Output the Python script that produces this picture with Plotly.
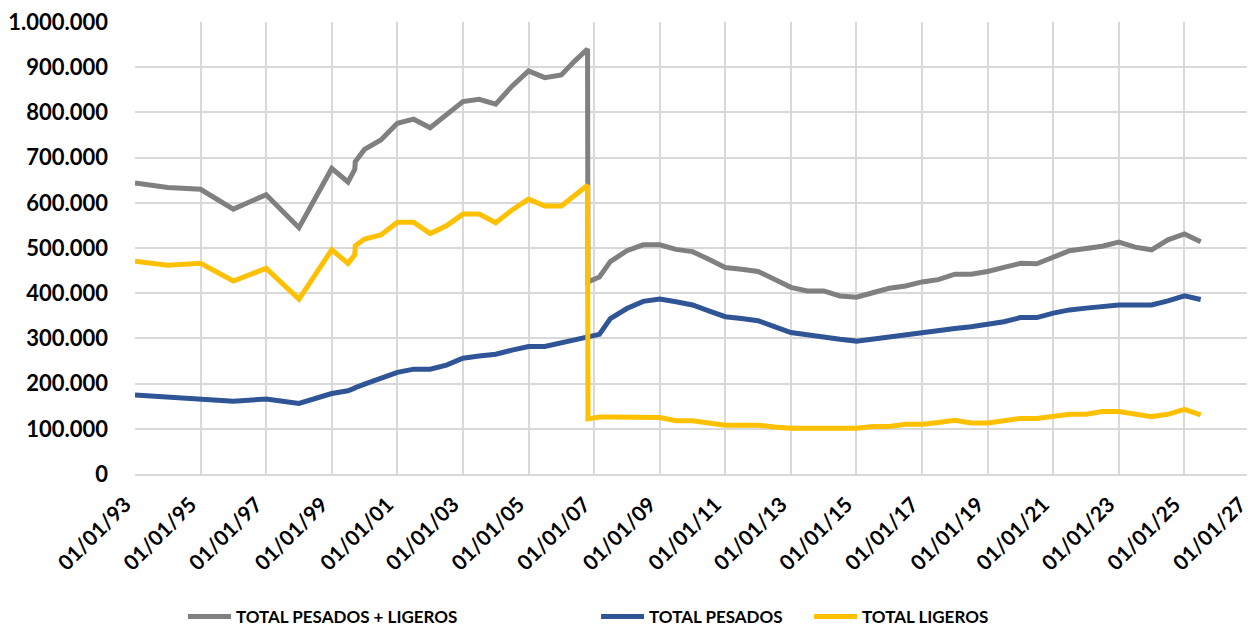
import plotly.graph_objects as go

dates = [
    "1993-01-01", "1994-01-01", "1995-01-01", "1996-01-01", "1997-01-01", "1998-01-01",
    "1999-01-01", "1999-07-01", "1999-09-15", "1999-09-20",
    "2000-01-01", "2000-07-01", "2001-01-01", "2001-07-01", "2002-01-01", "2002-07-01",
    "2003-01-01", "2003-07-01", "2004-01-01", "2004-07-01", "2005-01-01", "2005-07-01",
    "2006-01-01", "2006-06-01", "2006-10-20", "2006-10-25", "2007-03-01", "2007-07-01",
    "2008-01-01", "2008-07-01", "2009-01-01", "2009-07-01", "2010-01-01", "2010-07-01",
    "2011-01-01", "2011-07-01", "2012-01-01", "2012-07-01", "2013-01-01", "2013-07-01",
    "2014-01-01", "2014-07-01", "2015-01-01", "2015-07-01", "2016-01-01", "2016-07-01",
    "2017-01-01", "2017-07-01", "2018-01-01", "2018-07-01", "2019-01-01", "2019-07-01",
    "2020-01-01", "2020-07-01", "2021-01-01", "2021-07-01", "2022-01-01", "2022-07-01",
    "2023-01-01", "2023-07-01", "2024-01-01", "2024-07-01", "2025-01-01", "2025-07-01",
]

total = [
    644000, 634000, 630000, 586000, 618000, 545000,
    676000, 646000, 674000, 691000,
    718000, 739000, 776000, 785000, 766000, 794000,
    824000, 829000, 818000, 858000, 892000, 877000,
    883000, 914000, 940000, 425000, 436000, 470000,
    494000, 507000, 507000, 497000, 492000, 475000,
    457000, 453000, 448000, 431000, 413000, 405000,
    405000, 394000, 391000, 401000, 411000, 416000,
    425000, 430000, 442000, 442000, 448000, 457000,
    466000, 465000, 479000, 494000, 499000, 504000,
    513000, 502000, 496000, 518000, 531000, 514000,
]

pesados = [
    175000, 170000, 166000, 161000, 166000, 156000,
    178000, 184000, 190000, 191000,
    199000, 212000, 225000, 232000, 232000, 241000,
    256000, 261000, 265000, 274000, 282000, 282000,
    291000, 296000, 303000, 303000, 309000, 344000,
    366000, 382000, 387000, 381000, 374000, 361000,
    348000, 344000, 339000, 326000, 313000, 308000,
    302000, 298000, 294000, 299000, 304000, 309000,
    314000, 319000, 322000, 326000, 332000, 337000,
    346000, 346000, 356000, 363000, 367000, 370000,
    374000, 374000, 374000, 383000, 394000, 386000,
]

ligeros = [
    471000, 462000, 466000, 427000, 455000, 387000,
    496000, 466000, 485000, 505000,
    520000, 529000, 557000, 557000, 532000, 549000,
    575000, 575000, 556000, 584000, 608000, 593000,
    593000, 617000, 639000, 122000, 126000, 126000,
    126000, 126000, 125000, 118000, 118000, 113000,
    108000, 108000, 108000, 104000, 101000, 101000,
    101000, 101000, 101000, 105000, 105000, 110000,
    110000, 114000, 119000, 113000, 113000, 118000,
    123000, 123000, 127000, 132000, 132000, 138000,
    138000, 133000, 127000, 132000, 143000, 131000,
]

series_names = ["TOTAL PESADOS + LIGEROS", "TOTAL PESADOS", "TOTAL LIGEROS"]
series_colors = ["#808080", "#2F5597", "#FFC000"]
legend_ids = ["legend", "legend2", "legend3"]
legend_x = [0.043, 0.4135, 0.6045]

font_family = "Lato, 'Liberation Sans', sans-serif"

fig = go.Figure()
for name, vals, col, lid in zip(series_names, [total, pesados, ligeros], series_colors, legend_ids):
    fig.add_trace(go.Scatter(
        x=dates, y=vals, mode="lines", name=name,
        line=dict(color=col, width=5),
        legend=lid,
    ))

legend_common = dict(
    orientation="h", xanchor="left", y=-0.316, yanchor="middle",
    font=dict(size=17, family=font_family, weight="bold", color="black"),
    itemwidth=43, bgcolor="rgba(0,0,0,0)",
)

# the page body has an 8px margin, so the figure is sized 8px smaller
fig.update_layout(
    width=1247, height=620,
    margin=dict(l=127, r=5, t=14, b=154, autoexpand=False),
    paper_bgcolor="white", plot_bgcolor="white",
    separators=",.",
    font=dict(family=font_family, color="black", size=17),
    legend=dict(x=legend_x[0], **legend_common),
    legend2=dict(x=legend_x[1], **legend_common),
    legend3=dict(x=legend_x[2], **legend_common),
    showlegend=True,
)

fig.update_xaxes(
    type="date", automargin=False,
    range=["1993-01-01", "2027-01-01"],
    tick0="1993-01-01", dtick="M24",
    tickformat="%d/%m/%y", tickangle=-45,
    tickfont=dict(size=21, family=font_family, weight="bold", color="black"),
    ticklabelstandoff=8, ticklabelshift=-10, ticklabeloverflow="allow",
    showgrid=True, gridcolor="#D9D9D9", gridwidth=2,
    showline=True, linecolor="#D9D9D9", linewidth=2,
    ticks="", zeroline=False,
)
fig.update_yaxes(
    automargin=False,
    range=[0, 1000000], dtick=100000, tickformat=",d",
    tickfont=dict(size=22, family=font_family, weight="bold", color="black"),
    ticklabelstandoff=26, ticklabeloverflow="allow",
    showgrid=True, gridcolor="#D9D9D9", gridwidth=2,
    zeroline=False, showline=False, ticks="",
)

fig.write_html("out.html")
